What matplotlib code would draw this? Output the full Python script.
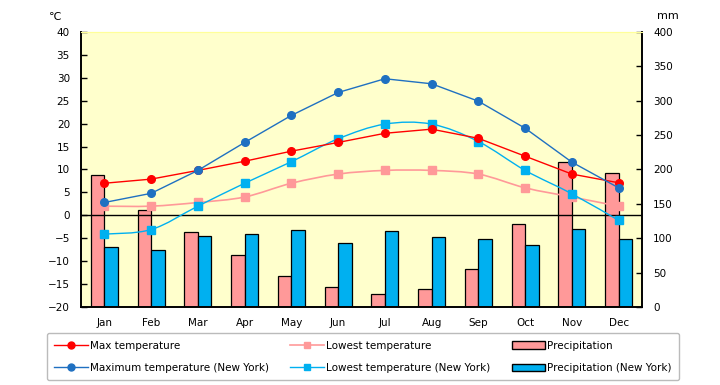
import numpy as np
import matplotlib.pyplot as plt
from matplotlib.path import Path
from matplotlib.patches import PathPatch, Patch
from matplotlib.lines import Line2D

plt.rcParams['font.family'] = ['DejaVu Sans']
plt.rcParams['font.size'] = 7.5

months = ["Jan", "Feb", "Mar", "Apr", "May", "Jun",
          "Jul", "Aug", "Sep", "Oct", "Nov", "Dec"]

# temperatures (°C)
max_temp = [7.0, 7.9, 9.8, 11.8, 14.0, 15.9, 17.9, 18.8, 16.8, 12.9, 9.0, 7.1]
low_temp = [2.0, 2.0, 2.8, 4.0, 7.0, 9.0, 9.8, 9.8, 9.0, 6.0, 4.0, 2.0]
max_ny = [2.8, 4.8, 9.8, 15.9, 21.8, 26.8, 29.8, 28.7, 24.9, 19.0, 11.6, 6.0]
low_ny = [-4.1, -3.1, 2.0, 7.0, 11.7, 16.7, 19.9, 19.9, 16.1, 9.8, 4.7, -1.1]

# precipitation (mm)
precip = [192, 141, 109, 75, 45, 29, 19, 26, 55, 120, 211, 195]
precip_ny = [87, 83, 103, 106, 112, 93, 110, 102, 99, 90, 113, 99]


def smooth_path(x, y):
    # catmull-rom style bezier through the points (like excel "smoothed line")
    pts = np.column_stack([np.asarray(x, float), np.asarray(y, float)])
    verts = [pts[0]]
    codes = [Path.MOVETO]
    n = len(pts)
    for i in range(n - 1):
        p0 = pts[i - 1] if i > 0 else pts[i]
        p1 = pts[i]
        p2 = pts[i + 1]
        p3 = pts[i + 2] if i + 2 < n else pts[i + 1]
        verts += [p1 + (p2 - p0) / 6.0, p2 - (p3 - p1) / 6.0, p2]
        codes += [Path.CURVE4] * 3
    return Path(verts, codes)


fig = plt.figure(figsize=(7.2, 3.85), dpi=100)
ax_t = fig.add_axes([0.1125, 0.2026, 0.7792, 0.7143])
ax_p = ax_t.twinx()
ax_p.set_zorder(1)
ax_t.set_zorder(2)
ax_t.patch.set_visible(False)
ax_p.patch.set_visible(True)
ax_p.set_facecolor("#FFFFCC")

x = np.arange(len(months))
w = 0.29
ax_p.bar(x - w / 2, precip, w, color="#FF9999", edgecolor="black", linewidth=0.9)
ax_p.bar(x + w / 2, precip_ny, w, color="#00B0F0", edgecolor="black", linewidth=0.9)
ax_p.set_ylim(0, 400)
ax_p.set_yticks(range(0, 401, 50))

ax_t.axhline(0, color="black", lw=1, zorder=1)

# straight lines
ax_t.plot(x, max_temp, color="#FF0000", lw=1, marker="o", ms=5.5, zorder=5)
ax_t.plot(x, max_ny, color="#1F70C1", lw=1, marker="o", ms=5.5, zorder=6)
# smoothed lines
ax_t.add_patch(PathPatch(smooth_path(x, low_temp), fill=False, edgecolor="#FF9999", lw=1.2, zorder=3))
ax_t.plot(x, low_temp, ls="none", color="#FF9999", marker="s", ms=5.5, zorder=3)
ax_t.add_patch(PathPatch(smooth_path(x, low_ny), fill=False, edgecolor="#00B0F0", lw=1, zorder=4))
ax_t.plot(x, low_ny, ls="none", color="#00B0F0", marker="s", ms=5.5, zorder=4)

ax_t.set_xlim(-0.5, 11.5)
ax_t.set_ylim(-20, 40)
ax_t.set_yticks(range(-20, 41, 5))
ax_t.set_xticks(x)
ax_t.set_xticklabels(months)

for a in (ax_t, ax_p):
    a.tick_params(direction="in", length=4, width=1, colors="black")
    a.spines["top"].set_color("#FFFF99")
    for s in ("left", "right", "bottom"):
        a.spines[s].set_linewidth(1.2)
ax_t.tick_params(axis="x", length=0, pad=8)
ax_t.tick_params(axis="y", pad=8)
ax_p.tick_params(axis="y", pad=8)

fig.text(0.076, 0.955, "℃", ha="center", va="center", fontsize=8)
fig.text(0.928, 0.958, "mm", ha="center", va="center", fontsize=8)

handles = [
    Line2D([], [], color="#FF0000", lw=1, marker="o", ms=5),
    Line2D([], [], color="#1F70C1", lw=1, marker="o", ms=5),
    Line2D([], [], color="#FF9999", lw=1.2, marker="s", ms=5),
    Line2D([], [], color="#00B0F0", lw=1, marker="s", ms=5),
    Patch(facecolor="#FF9999", edgecolor="black", lw=1),
    Patch(facecolor="#00B0F0", edgecolor="black", lw=1),
]
labels = ["Max temperature", "Maximum temperature (New York)",
          "Lowest temperature", "Lowest temperature (New York)",
          "Precipitation", "Precipitation (New York)"]
leg = fig.legend(handles, labels, ncol=3, loc="center",
                 bbox_to_anchor=(0.058, 0.023, 0.892, 0.1), mode="expand",
                 frameon=True, fancybox=True, edgecolor="#AAAAAA",
                 handlelength=3.2, handletextpad=0.2, borderpad=0.7,
                 labelspacing=1.2, columnspacing=1.0, fontsize=7.5)
leg.get_frame().set_linewidth(1)

fig.savefig("out.png", dpi=100)
